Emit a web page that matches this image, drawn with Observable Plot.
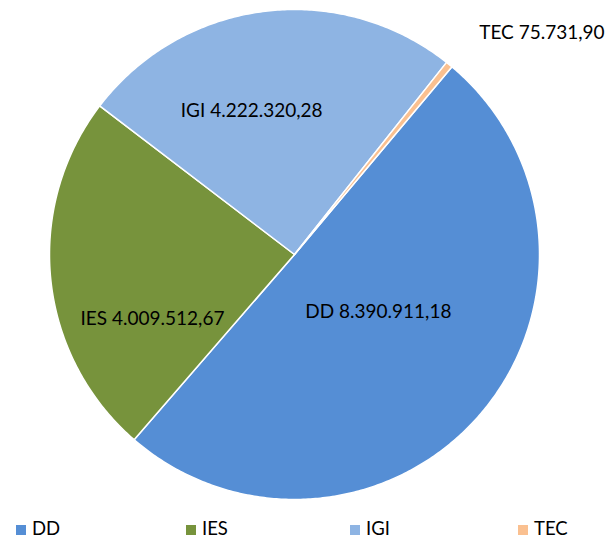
<!DOCTYPE html>
<html>
<head>
<meta charset="utf-8">
<script src="https://cdn.jsdelivr.net/npm/d3@7"></script>
<script src="https://cdn.jsdelivr.net/npm/@observablehq/plot@0.6"></script>
<style>
  body { margin: 0; background: #fff; font-family: Lato, "Open Sans", sans-serif; }
  #wrap { position: relative; width: 611px; height: 544px; }
  #legend { position: absolute; left: 0; top: 512px; width: 611px; height: 32px; }
  .li { position: absolute; top: 5px; font-size: 18.5px; color: #000; line-height: 22px; }
  .sw { display: inline-block; width: 10px; height: 10px; margin-right: 6px; vertical-align: 0px; }
</style>
</head>
<body>
<div id="wrap"><div id="chart"></div><div id="legend"></div></div>
<script>
// Data
const categories = ["DD", "IES", "IGI", "TEC"];
const values = [8390911.18, 4009512.67, 4222320.28, 75731.90];
const labels = ["DD 8.390.911,18", "IES 4.009.512,67", "IGI 4.222.320,28", "TEC 75.731,90"];
const colors = ["#558ED5", "#77933C", "#8EB4E3", "#FAC090"];

// Layout (label placement relative to slice mid-angle, in degrees / radius fraction)
const labelAngleOffset = [-6.2, -18.4, -9.5, 9];
const labelRadius = [0.414, 0.636, 0.61, 1.355];
const startDeg = 40;

const table = categories.map((c, i) => ({cat: c, value: values[i], label: labels[i]}));
const arcs = d3.pie().value(d => d.value).sort(null)
  .startAngle(startDeg * Math.PI / 180).endAngle((startDeg + 360) * Math.PI / 180)(table);

const pt = (r, a) => [r * Math.sin(a), -r * Math.cos(a)];
const features = arcs.map(a => {
  const n = Math.max(2, Math.ceil((a.endAngle - a.startAngle) / 0.01));
  const ring = [[0, 0]];
  for (let k = 0; k <= n; k++) ring.push(pt(1, a.startAngle + (a.endAngle - a.startAngle) * k / n));
  ring.push([0, 0]);
  return {type: "Feature", properties: {cat: a.data.cat}, geometry: {type: "Polygon", coordinates: [ring]}};
});
const labelPts = arcs.map((a, i) => {
  const m = (a.startAngle + a.endAngle) / 2 + labelAngleOffset[i] * Math.PI / 180;
  const [x, y] = pt(labelRadius[i], m);
  return {x, y, label: a.data.label};
});
const domain = {type: "Polygon", coordinates: [[[-1, -1], [1, -1], [1, 1], [-1, 1], [-1, -1]]]};

const plot = Plot.plot({
  width: 611,
  height: 512,
  marginTop: 9,
  marginBottom: 13,
  marginLeft: 49,
  marginRight: 72,
  projection: {type: "identity", domain, clip: false},
  color: {domain: categories, range: colors},
  style: {fontFamily: "Lato, 'Open Sans', sans-serif", background: "#fff", overflow: "visible"},
  marks: [
    Plot.geo(features, {fill: d => d.properties.cat, stroke: "#fff", strokeWidth: 1.5, strokeLinejoin: "round"}),
    Plot.text(labelPts, {x: "x", y: "y", text: "label", fontSize: 19, fill: "#000", clip: false})
  ]
});
document.getElementById("chart").appendChild(plot);

const legendX = [16, 186, 350, 518];
const legend = document.getElementById("legend");
categories.forEach((c, i) => {
  const d = document.createElement("div");
  d.className = "li";
  d.style.left = legendX[i] + "px";
  d.innerHTML = `<span class="sw" style="background:${colors[i]}"></span>${c}`;
  legend.appendChild(d);
});
</script>
</body>
</html>
